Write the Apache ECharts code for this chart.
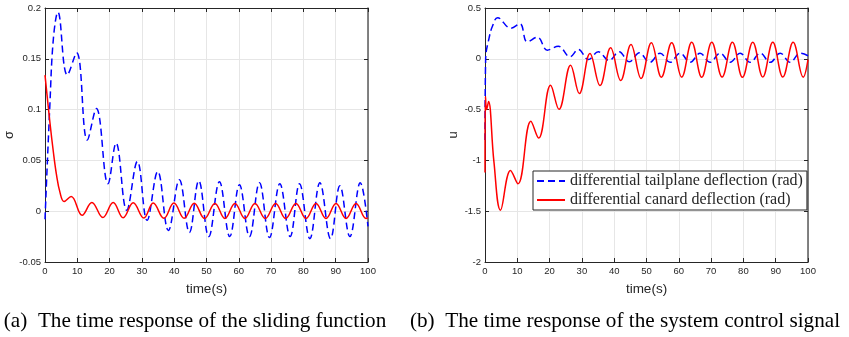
<!DOCTYPE html>
<html>
<head>
<meta charset="utf-8">
<script src="https://cdn.jsdelivr.net/npm/echarts@6/dist/echarts.min.js"></script>
<style>html,body{margin:0;padding:0;background:#fff;}#c{width:849px;height:337px;}</style>
</head>
<body>
<div id="c"></div>
<script>
// ---- data ----
const timeTicks = { min: 0, max: 100, interval: 10 };
const sigmaTicks = { min: -0.05, max: 0.2, interval: 0.05 };
const uTicks = { min: -2, max: 0.5, interval: 0.5 };

const xName = 'time(s)';
const sigmaName = 'σ';
const uName = 'u';
const legendNames = ['differential tailplane deflection (rad)', 'differential canard deflection (rad)'];
const captionA = '(a)  The time response of the sliding function';
const captionB = '(b)  The time response of the system control signal';

// left panel: sliding function
const sigmaDashed = [
  [0, -0.008], [1.5, 0.104], [2.6, 0.17], [4.0, 0.196], [6.9, 0.134], [9.8, 0.156],
  [13.1, 0.070], [15.9, 0.101], [19.5, 0.027], [22.0, 0.067], [25.3, 0.001], [28.6, 0.049],
  [31.6, -0.009], [34.9, 0.039], [38.2, -0.019], [41.6, 0.031], [44.7, -0.021], [47.6, 0.030],
  [50.7, -0.025], [54.0, 0.029], [57.2, -0.025], [60.2, 0.026], [63.3, -0.025], [66.4, 0.028],
  [69.5, -0.026], [72.7, 0.027], [75.9, -0.025], [78.8, 0.027], [82.0, -0.027], [85.1, 0.028],
  [88.4, -0.027], [91.3, 0.025], [94.4, -0.025], [97.6, 0.028], [100, -0.015]
];
const sigmaSolid = [
  [0, 0.134], [1.5, 0.088], [2.6, 0.058], [3.6, 0.035], [4.6, 0.019], [5.9, 0.0095],
  [8.1, 0.0145], [11.5, -0.004], [14.5, 0.0086], [17.9, -0.0062], [21.1, 0.0085], [24.2, -0.0065],
  [27.3, 0.0083], [30.6, -0.0068], [33.5, 0.008], [36.8, -0.007], [39.9, 0.008], [43.1, -0.007],
  [46.2, 0.0078], [49.4, -0.0072], [52.6, 0.0076], [55.7, -0.0072], [58.8, 0.0076], [61.9, -0.0072],
  [65.0, 0.0076], [68.2, -0.0072], [71.4, 0.0076], [74.5, -0.0072], [77.7, 0.0076], [80.8, -0.0072],
  [83.9, 0.0076], [87.0, -0.0072], [90.1, 0.0076], [93.2, -0.0072], [96.3, 0.0076], [99.4, -0.0072],
  [100, -0.0065]
];

// right panel: control signal
const uTailplane = [
  [0, -0.8], [0.2, 0.0], [1.3, 0.21], [2.3, 0.32], [3.9, 0.405], [8.0, 0.30], [10.8, 0.345],
  [13.1, 0.165], [16.2, 0.213], [19.3, 0.085], [22.7, 0.124], [26.3, 0.02], [28.9, 0.092],
  [32.0, -0.007], [35.1, 0.069], [38.4, -0.017], [41.5, 0.069], [44.7, -0.03], [47.8, 0.059],
  [51.0, -0.035], [54.2, 0.055], [57.3, -0.035], [60.4, 0.055], [63.5, -0.035], [66.6, 0.055],
  [69.7, -0.035], [72.8, 0.055], [75.9, -0.035], [79.0, 0.055], [82.1, -0.035], [85.2, 0.055],
  [88.3, -0.035], [91.4, 0.055], [94.5, -0.035], [97.6, 0.055], [100, 0.03]
];
const uCanard = [
  [0, -1.12], [0.15, -0.37], [0.5, -0.5], [1.1, -0.42], [2.75, -1.01], [4.8, -1.49],
  [7.9, -1.10], [10.2, -1.23], [14.2, -0.615], [16.6, -0.78], [20.3, -0.26], [22.9, -0.497],
  [26.5, -0.063], [29.2, -0.342], [32.5, 0.052], [35.6, -0.263], [38.9, 0.108], [42.0, -0.214],
  [45.2, 0.141], [48.3, -0.194], [51.5, 0.158], [54.6, -0.181], [57.8, 0.158], [60.9, -0.18],
  [64.0, 0.162], [67.1, -0.181], [70.2, 0.162], [73.4, -0.18], [76.6, 0.162], [79.7, -0.181],
  [82.9, 0.162], [86.0, -0.18], [89.1, 0.162], [92.2, -0.18], [95.4, 0.162], [98.5, -0.18],
  [100, -0.007]
];

// ---- chart ----
const AX = '#262626';
const GRIDC = '#e6e6e6';
const SANS = 'Liberation Sans, Arial, sans-serif';
const SERIF = 'Liberation Serif, Times New Roman, serif';

function bottomX(gi) {
  return {
    type: 'value', gridIndex: gi, position: 'bottom',
    min: timeTicks.min, max: timeTicks.max, interval: timeTicks.interval,
    axisLine: { onZero: false, lineStyle: { color: AX, width: 1 } },
    axisTick: { inside: true, length: 4, lineStyle: { color: AX } },
    axisLabel: { color: AX, fontSize: 9.5, fontFamily: SANS, margin: 4 },
    splitLine: { show: true, lineStyle: { color: GRIDC, width: 1 } },
    name: xName, nameLocation: 'middle', nameGap: 20,
    nameTextStyle: { color: AX, fontSize: 13.5, fontFamily: SANS }
  };
}
function topX(gi) {
  return {
    type: 'value', gridIndex: gi, position: 'top',
    min: timeTicks.min, max: timeTicks.max, interval: timeTicks.interval,
    axisLine: { show: true, onZero: false, lineStyle: { color: AX, width: 1 } },
    axisTick: { inside: true, length: 4, lineStyle: { color: AX } },
    axisLabel: { show: false }, splitLine: { show: false }
  };
}
function leftY(gi, t, name, gap) {
  return {
    type: 'value', gridIndex: gi, position: 'left',
    min: t.min, max: t.max, interval: t.interval,
    axisLine: { show: true, onZero: false, lineStyle: { color: AX, width: 1 } },
    axisTick: { show: true, inside: true, length: 4, lineStyle: { color: AX } },
    axisLabel: { color: AX, fontSize: 9.5, fontFamily: SANS, margin: 4 },
    splitLine: { show: true, lineStyle: { color: GRIDC, width: 1 } },
    name: name, nameLocation: 'middle', nameGap: gap, nameRotate: 90,
    nameTextStyle: { color: AX, fontSize: 13, fontFamily: SANS }
  };
}
function rightY(gi, t) {
  return {
    type: 'value', gridIndex: gi, position: 'right',
    min: t.min, max: t.max, interval: t.interval,
    axisLine: { show: true, onZero: false, lineStyle: { color: '#5a5a5a', width: 1.5 } },
    axisTick: { show: true, inside: true, length: 4, lineStyle: { color: AX } },
    axisLabel: { show: false }, splitLine: { show: false }
  };
}

const chart = echarts.init(document.getElementById('c'), null, { renderer: 'canvas' });
chart.setOption({
  animation: false,
  backgroundColor: '#fff',
  grid: [
    { left: 45, top: 8, width: 323, height: 254 },
    { left: 485, top: 8, width: 323, height: 254 }
  ],
  xAxis: [bottomX(0), topX(0), bottomX(1), topX(1)],
  yAxis: [leftY(0, sigmaTicks, sigmaName, 23), rightY(0, sigmaTicks), leftY(1, uTicks, uName, 25), rightY(1, uTicks)],
  legend: {
    show: true,
    data: legendNames,
    orient: 'vertical',
    left: 533, top: 171,
    padding: [2, 4, 2, 3],
    itemGap: 3,
    itemWidth: 28, itemHeight: 14,
    backgroundColor: '#fff',
    borderColor: AX, borderWidth: 1, borderRadius: 0,
    itemStyle: { opacity: 0 },
    textStyle: { color: AX, fontSize: 16, fontFamily: SERIF }
  },
  graphic: [
    { type: 'text', x: 195, y: 321, style: { text: captionA, font: '21.2px ' + SERIF, fill: '#000', align: 'center', verticalAlign: 'middle' } },
    { type: 'text', x: 625, y: 321, style: { text: captionB, font: '21.2px ' + SERIF, fill: '#000', align: 'center', verticalAlign: 'middle' } }
  ],
  series: [
    { name: 'sigma dashed', type: 'line', xAxisIndex: 0, yAxisIndex: 0, data: sigmaDashed, smooth: 0.4, showSymbol: false, symbol: 'none',
      lineStyle: { color: '#0000ff', width: 1.5, type: [7, 4] }, itemStyle: { color: '#0000ff' } },
    { name: 'sigma solid', type: 'line', xAxisIndex: 0, yAxisIndex: 0, data: sigmaSolid, smooth: 0.4, showSymbol: false, symbol: 'none',
      lineStyle: { color: '#ff0000', width: 1.5 }, itemStyle: { color: '#ff0000' } },
    { name: legendNames[0], type: 'line', xAxisIndex: 2, yAxisIndex: 2, data: uTailplane, smooth: 0.4, showSymbol: false, symbol: 'none',
      lineStyle: { color: '#0000ff', width: 1.5, type: [7, 4] }, itemStyle: { color: '#0000ff' } },
    { name: legendNames[1], type: 'line', xAxisIndex: 2, yAxisIndex: 2, data: uCanard, smooth: 0.4, showSymbol: false, symbol: 'none',
      lineStyle: { color: '#ff0000', width: 1.5 }, itemStyle: { color: '#ff0000' } }
  ]
});
</script>
</body>
</html>
